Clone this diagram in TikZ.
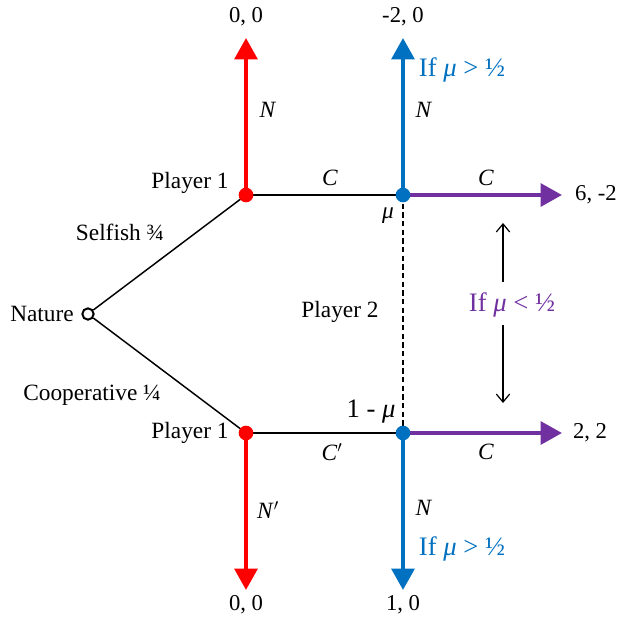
\documentclass[tikz,border=0pt]{standalone}
\usepackage{fontspec}
\setmainfont{Liberation Serif}
\usetikzlibrary{arrows.meta}
\definecolor{pred}{RGB}{255,0,0}
\definecolor{pblue}{RGB}{0,112,192}
\definecolor{ppurple}{RGB}{112,48,160}
\tikzset{every picture/.style={line width=0.75pt}}

\begin{document}
\begin{tikzpicture}[x=0.75pt,y=0.75pt,yscale=-1,
  lbl/.style={font=\fontsize{17.5}{21}\selectfont,inner sep=1pt},
  pay/.style={font=\fontsize{17}{20}\selectfont,inner sep=1pt},
  cond/.style={font=\fontsize{20}{24}\selectfont,inner sep=1pt},
  move/.style={line width=3pt,-{Triangle[length=16pt,width=17pt]}},
  branch/.style={line width=1.1pt},
  dotnode/.style={circle,inner sep=0pt,minimum size=11pt},
  hint/.style={line width=0.9pt,-{Straight Barb[length=6pt,width=10pt]}}]
\useasboundingbox (0,0) rectangle (618,621);

% Nodes of the tree
\node[circle,draw,fill=white,line width=1.5pt,inner sep=0pt,minimum size=8.5pt] (nat) at (88,314) {};
\node[dotnode] (p1s) at (246,195) {};
\node[dotnode] (p1c) at (246,433) {};
\node[dotnode] (p2s) at (403,195) {};
\node[dotnode] (p2c) at (403,433) {};

% Arrow ends
\coordinate (es1) at (246,38);
\coordinate (es2) at (403,38);
\coordinate (es3) at (562,195);
\coordinate (ec1) at (562,433);
\coordinate (ec2) at (246,590);
\coordinate (ec3) at (403,590);

%Straight Lines
\draw[branch] (nat) -- (p1s.center);
\draw[branch] (nat) -- (p1c.center);
\draw[branch] (p1s.center) -- (p2s.center);
\draw[branch] (p1c.center) -- (p2c.center);
%Dashed Lines
\draw[line width=1.6pt,dash pattern=on 4pt off 2.5pt] (p2s.center) -- (p2c.center);

%Arrows
\draw[move,pred] (p1s.center) -- (es1);
\draw[move,pblue] (p2s.center) -- (es2);
\draw[move,ppurple] (p2s.center) -- (es3);
\draw[move,ppurple] (p2c.center) -- (ec1);
\draw[move,pred] (p1c.center) -- (ec2);
\draw[move,pblue] (p2c.center) -- (ec3);

% Dots
\fill[pred] (p1s) circle (5.5pt);
\fill[pred] (p1c) circle (5.5pt);
\fill[pblue] (p2s) circle (5.5pt);
\fill[pblue] (p2c) circle (5.5pt);

% Text Node
\node[lbl] (tnat) at (42,314) {Nature};
\node[lbl] (tsel) at (120,232) {Selfish ¾};
\node[lbl] (tcoop) at (92,395) {Cooperative ¼};
\node[lbl] (tp1s) at (190,183) {Player 1};
\node[lbl] (tp1c) at (190,433) {Player 1};
\node[lbl] (tp2) at (340,312) {Player 2};
\node[lbl] (tmu) at (388,216) {\textit{μ}};
\node[cond] (tmuc) at (371,412) {1 - \textit{μ}};
% Text Node
\node[lbl] (tn1) at (268,110) {\textit{N}};
\node[lbl] (tn2) at (424,110) {\textit{N}};
\node[lbl] (tn3) at (268,510) {\textit{N}$^{\prime}$};
\node[lbl] (tn4) at (424,508) {\textit{N}};
\node[lbl] (tc1) at (330,178) {\textit{C}};
\node[lbl] (tc2) at (486,178) {\textit{C}};
\node[lbl] (tc3) at (332,452) {\textit{C}$^{\prime}$};
\node[lbl] (tc4) at (486,452) {\textit{C}};
% Text Node
\node[pay] (o1) at (246,17) {0, 0};
\node[pay] (o2) at (403,17) {-2, 0};
\node[pay] (o3) at (596,195) {6, -2};
\node[pay] (o4) at (590,433) {2, 2};
\node[pay] (o5) at (246,605) {0, 0};
\node[pay] (o6) at (403,605) {1, 0};
% Text Node
\node[cond,text=pblue] (if1) at (462,70) {If \textit{μ} > ½};
\node[cond,text=pblue] (if2) at (462,549) {If \textit{μ} > ½};
\node[cond,text=ppurple] (if3) at (512,305) {If \textit{μ} < ½};

% Coordinates of the hint arrows
\coordinate (hu) at (503,223);
\coordinate (hd) at (503,403);
\draw[hint] (503,282) -- (hu);
\draw[hint] (503,325) -- (hd);

\end{tikzpicture}
\end{document}
